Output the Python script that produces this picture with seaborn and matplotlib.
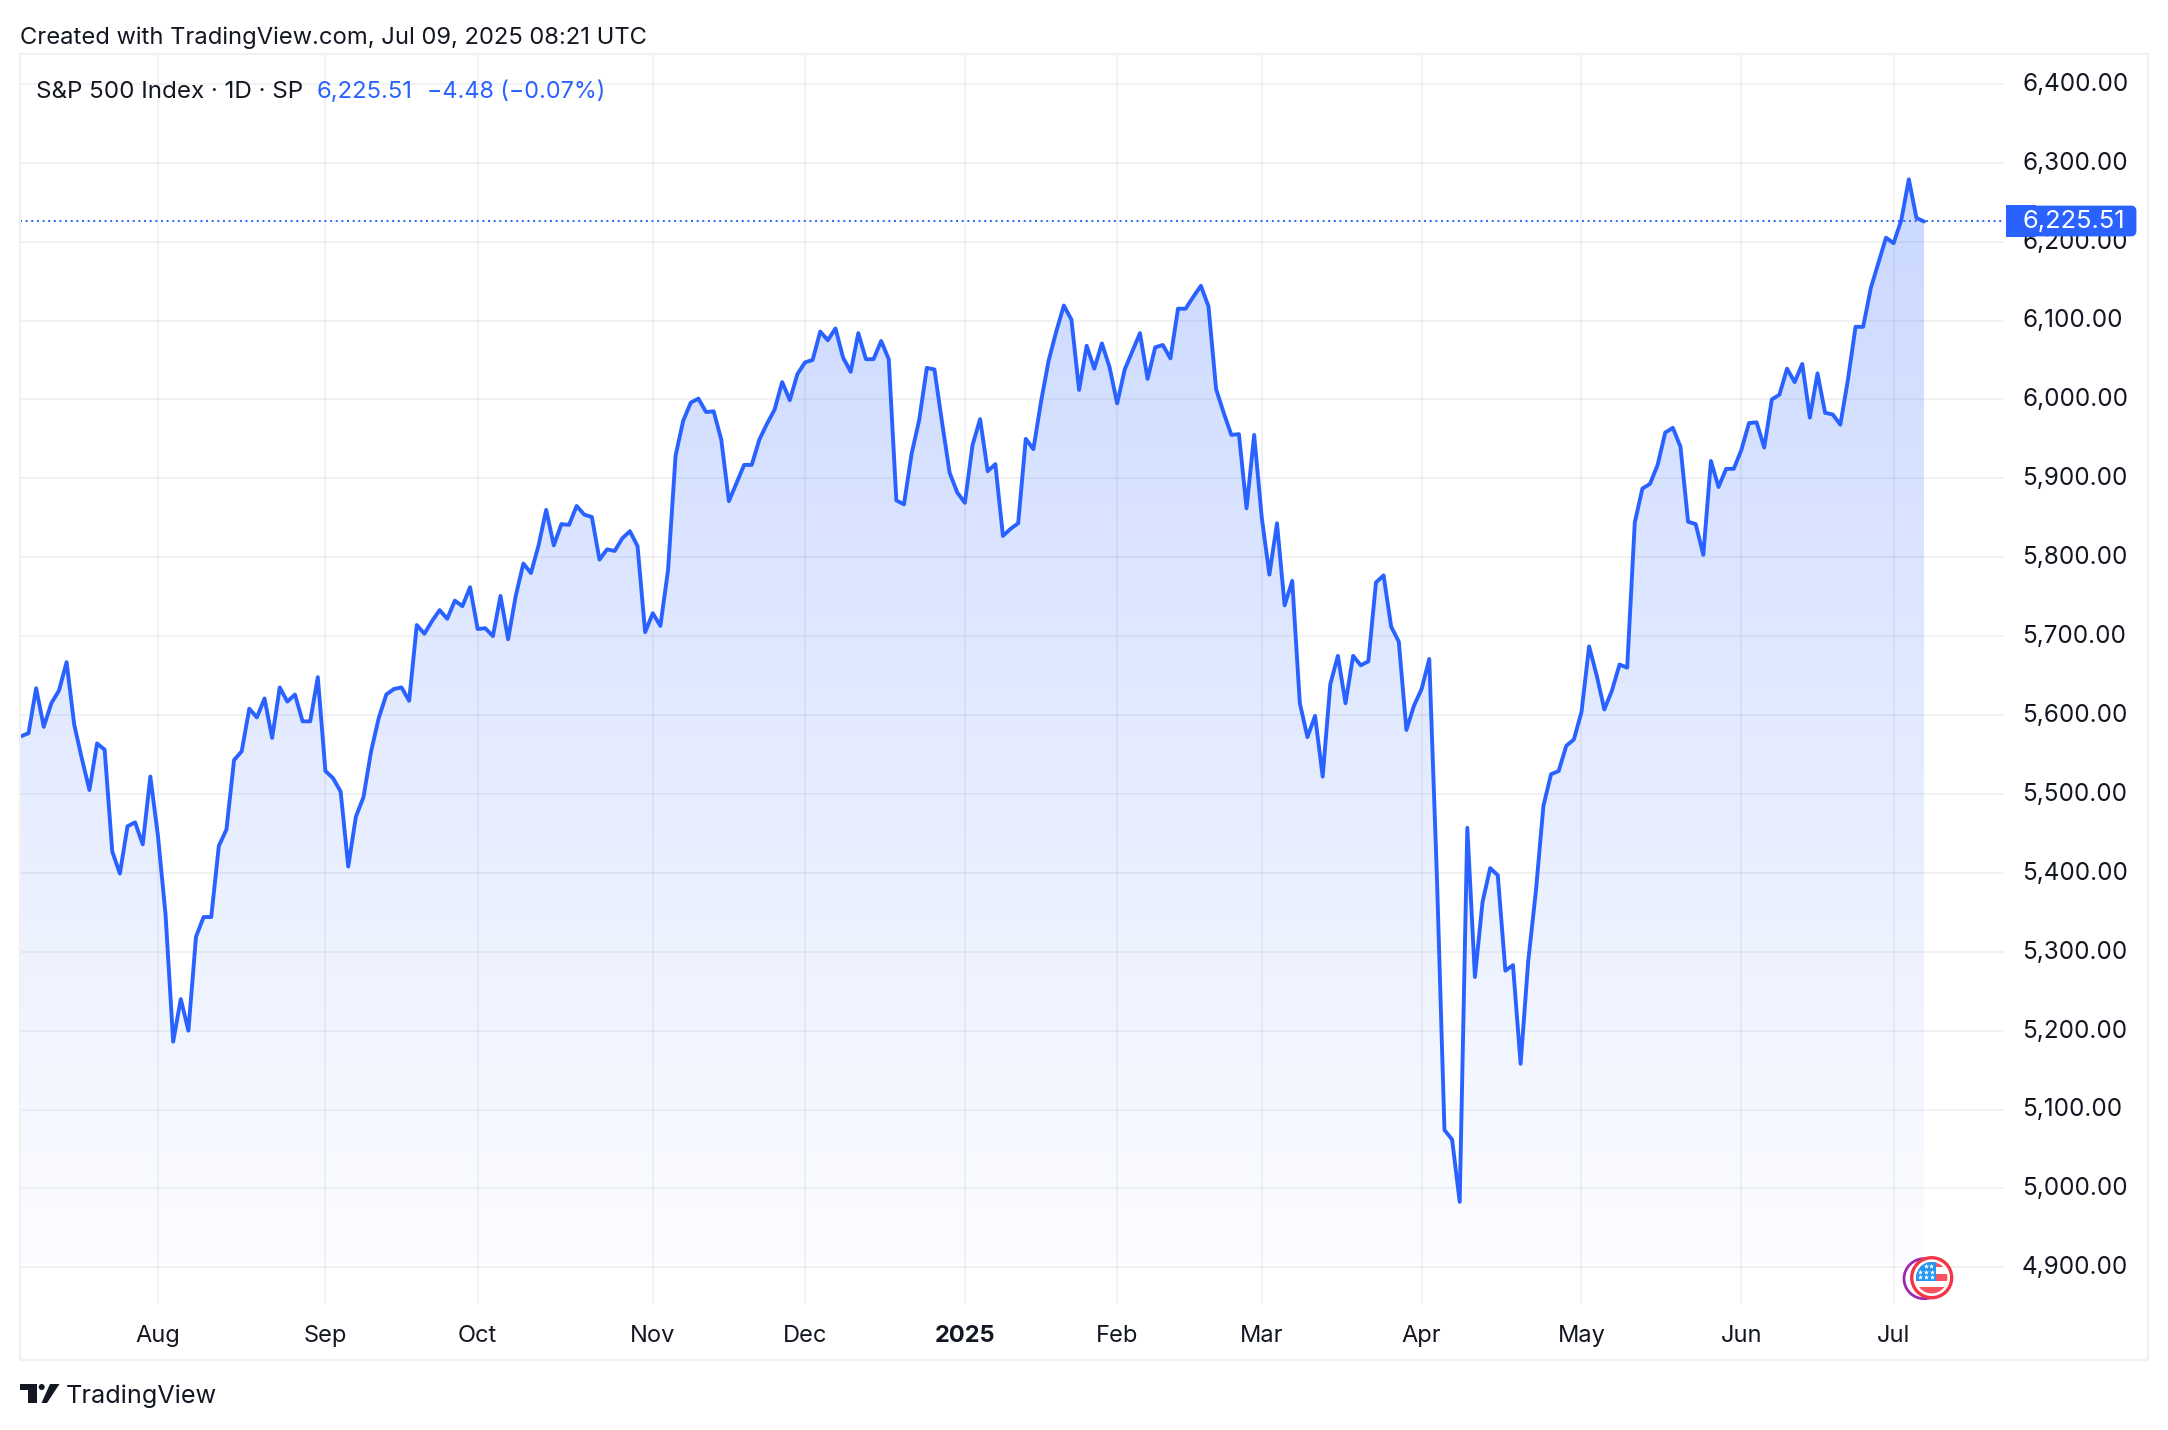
import numpy as np
import seaborn as sns
import matplotlib.pyplot as plt
from matplotlib.patches import Rectangle, Circle, Polygon, FancyBboxPatch
from matplotlib.transforms import ScaledTranslation

# daily closes, Jul 2024 to Jul 2025
closes_2024_h2 = [
    5573, 5577, 5634, 5585, 5615, 5631, 5667, 5588, 5545, 5505, 5564, 5556, 5427, 5399, 5459, 5464, 5436, 5522,
    5447, 5347, 5186, 5240, 5200, 5319, 5344, 5344, 5434, 5455, 5543, 5554, 5608, 5597, 5621, 5571, 5635, 5617, 5626, 5592, 5592, 5648,
    5529, 5520, 5503, 5408, 5471, 5496, 5554, 5596, 5626, 5633, 5635, 5618, 5714, 5703, 5719, 5733, 5722, 5745, 5738, 5762,
    5709, 5710, 5700, 5751, 5696, 5751, 5792, 5780, 5815, 5860, 5815, 5842, 5841, 5865, 5854, 5851, 5797, 5810, 5808, 5824, 5833, 5814, 5705,
    5729, 5713, 5783, 5929, 5973, 5996, 6001, 5984, 5985, 5949, 5871, 5894, 5917, 5917, 5949, 5969, 5987, 6022, 5999, 6032,
    6047, 6050, 6086, 6075, 6090, 6053, 6035, 6084, 6051, 6051, 6074, 6051, 5872, 5867, 5931, 5974, 6040, 6038, 5971, 5907, 5882,
]
closes_2025 = [
    5869, 5942, 5975, 5909, 5918, 5827, 5836, 5843, 5950, 5937, 5997, 6049, 6086, 6119, 6101, 6012, 6068, 6039, 6071, 6041,
    5995, 6038, 6061, 6084, 6026, 6066, 6069, 6052, 6115, 6115, 6130, 6144, 6118, 6013, 5983, 5955, 5956, 5862, 5955,
    5850, 5778, 5843, 5739, 5770, 5615, 5572, 5599, 5522, 5639, 5675, 5615, 5675, 5663, 5668, 5768, 5777, 5712, 5693, 5581, 5612,
    5633, 5671, 5397, 5074, 5062, 4983, 5457, 5268, 5363, 5406, 5397, 5276, 5283, 5158, 5288, 5376, 5485, 5525, 5529, 5561, 5569,
    5604, 5687, 5650, 5607, 5631, 5664, 5660, 5844, 5887, 5893, 5917, 5958, 5964, 5940, 5845, 5842, 5803, 5922, 5889, 5912, 5912,
    5936, 5970, 5971, 5939, 6000, 6006, 6039, 6022, 6045, 5977, 6033, 5983, 5981, 5968, 6025, 6092, 6092, 6141, 6173, 6205,
    6198, 6227, 6279, 6230, 6225.51,
]
closes = closes_2024_h2 + closes_2025

month_labels = ["Aug", "Sep", "Oct", "Nov", "Dec", "2025", "Feb", "Mar", "Apr", "May", "Jun", "Jul"]
month_bars = [18, 40, 60, 83, 103, 124, 144, 163, 184, 205, 226, 246]
price_ticks = [4900, 5000, 5100, 5200, 5300, 5400, 5500, 5600, 5700, 5800, 5900, 6000, 6100, 6200, 6300, 6400]

last_price = 6225.51
header_name = "S&P 500 Index · 1D · SP"
header_last = "6,225.51"
header_change = "−4.48 (−0.07%)"
created_text = "Created with TradingView.com, Jul 09, 2025 08:21 UTC"

W, H = 2168, 1430
BLUE = "#2962ff"
INK = "#131722"
FRAME = "#f0f1f4"

sns.set_theme(style="white")
plt.rcParams["font.family"] = ["Inter", "DejaVu Sans"]

fig = plt.figure(figsize=(W / 100, H / 100), dpi=100, facecolor="white")
ax = fig.add_axes([20 / W, 1 - 1303 / H, (2004 - 20) / W, (1303 - 54) / H])

bars = np.arange(len(closes))
xlim = (-0.12, 260.5)
ylim = (4854.8, 6437.8)

# area under the line, fading out towards the bottom
area = ax.fill_between(bars, closes, 4905, facecolor="none", edgecolor="none")
alpha = np.linspace(0.25, 0.015, 256).reshape(-1, 1)
rgba = np.ones((256, 1, 4))
rgba[..., :3] = (41 / 255, 98 / 255, 1.0)
rgba[..., 3] = alpha
im = ax.imshow(rgba, extent=(xlim[0], 250, 4900, 6280), origin="upper", aspect="auto", zorder=1)
im.set_clip_path(area.get_paths()[0], transform=ax.transData)

sns.lineplot(x=bars, y=closes, ax=ax, color=BLUE, linewidth=2.8, zorder=4, solid_joinstyle="round", errorbar=None)
ax.axhline(last_price, color=BLUE, linewidth=1.4, linestyle=(0, (1, 1.9)), zorder=3)

ax.set_xlim(xlim)
ax.set_ylim(ylim)
ax.set_xlabel("")
ax.set_ylabel("")
sns.despine(ax=ax, left=True, bottom=True, right=True, top=True)

ax.set_xticks(month_bars)
ax.set_xticklabels(month_labels)
ax.set_yticks(price_ticks)
ax.set_yticklabels([f"{p:,.2f}" for p in price_ticks])
ax.yaxis.tick_right()
ax.tick_params(axis="x", length=0, pad=15.5, labelsize=17, labelcolor=INK)
ax.tick_params(axis="y", length=0, pad=13, labelsize=17.5, labelcolor=INK)
ax.get_xticklabels()[5].set_fontweight("bold")
# nudge price labels up a little, they sit just above the grid lines
nudge = ScaledTranslation(0, 1.5 / 72, fig.dpi_scale_trans)
for lab in ax.get_yticklabels():
    lab.set_transform(lab.get_transform() + nudge)
ax.set_axisbelow(False)
ax.grid(True, color="#2a2e39", alpha=0.06, linewidth=1.4, zorder=2)

# overlay in image pixels for the frame, header, price tag and logos
ov = fig.add_axes([0, 0, 1, 1], facecolor="none")
ov.set_xlim(0, W)
ov.set_ylim(H, 0)
ov.axis("off")

ov.add_patch(Rectangle((20, 54), 2128, 1306, fill=False, edgecolor=FRAME, linewidth=1.5))

ov.text(20, 38, created_text, fontsize=17.1, color=INK, va="center", ha="left")
ov.text(36, 92, header_name, fontsize=17.4, color=INK, va="center", ha="left")
ov.text(317, 92, header_last, fontsize=17.2, color=BLUE, va="center", ha="left")
ov.text(427, 92, header_change, fontsize=16.8, color=BLUE, va="center", ha="left")

# last price tag
ov.add_patch(FancyBboxPatch((2012, 207), 123, 28, boxstyle="round,pad=0,rounding_size=4", facecolor=BLUE, edgecolor=BLUE, linewidth=2))
ov.add_patch(Rectangle((2006, 205), 30, 32, facecolor=BLUE, edgecolor="none"))
ov.text(2022, 222, "6,225.51", fontsize=18.3, color="white", va="center", ha="left")

# TradingView logo
ov.add_patch(Polygon([(20, 1384), (37, 1384), (37, 1403), (28, 1403), (28, 1390), (20, 1390)], facecolor=INK, edgecolor="none"))
ov.add_patch(Circle((41.7, 1387), 3, facecolor=INK, edgecolor="none"))
ov.add_patch(Polygon([(50, 1384), (59.5, 1384), (47, 1403), (41.5, 1403)], facecolor=INK, edgecolor="none"))
ov.text(66, 1396, "TradingView", fontsize=18.2, color=INK, va="center", ha="left")

# market flag badge
ov.add_patch(Circle((1924, 1278.7), 20, facecolor="white", edgecolor="#9c27b0", linewidth=2))
ov.add_patch(Circle((1931.7, 1277.7), 20, facecolor="white", edgecolor="#f23645", linewidth=2.4))
flag_clip = Circle((1931.7, 1277.7), 15.7, transform=ov.transData)
for top, bottom, colour in [(1262, 1267, "#f7525f"), (1273.5, 1281, "#f7525f"), (1287, 1294, "#f7525f"), (1262, 1281, "#2196f3")]:
    width = 35 if colour != "#2196f3" else 19.5
    stripe = Rectangle((1916, top), width, bottom - top, facecolor=colour, edgecolor="none")
    ov.add_patch(stripe)
    stripe.set_clip_path(flag_clip)
ov.scatter([1926, 1931, 1920, 1926, 1932, 1920, 1926, 1932], [1266, 1266, 1272, 1272, 1272, 1277, 1277, 1277],
           marker="*", s=16, color="white", linewidths=0, zorder=5)
ov.set_xlim(0, W)
ov.set_ylim(H, 0)

fig.savefig("out.png", dpi=100)
